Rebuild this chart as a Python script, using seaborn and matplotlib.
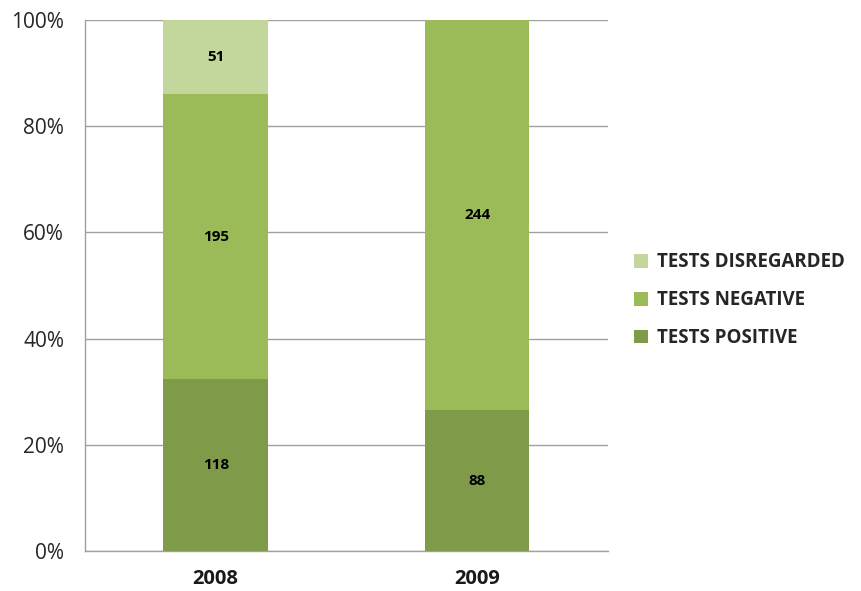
import pandas as pd
import matplotlib.pyplot as plt
import seaborn as sns
from matplotlib.patches import Patch

# Data
years = ["2008", "2009"]
tests_positive = [118, 88]
tests_negative = [195, 244]
tests_disregarded = [51, 0]

series_names = ["TESTS POSITIVE", "TESTS NEGATIVE", "TESTS DISREGARDED"]
series_colors = ["#7F9A48", "#9BBB59", "#C3D69B"]

df = pd.DataFrame({
    "year": years,
    "TESTS POSITIVE": tests_positive,
    "TESTS NEGATIVE": tests_negative,
    "TESTS DISREGARDED": tests_disregarded,
})
total = df[series_names].sum(axis=1)
pct = df[series_names].div(total, axis=0) * 100
cum = pct.cumsum(axis=1)

sns.set_style("white")
plt.rcParams['font.family'] = ['Open Sans', 'DejaVu Sans']

fig = plt.figure(figsize=(8.62, 5.91), dpi=100)
ax = fig.add_axes([0.0986, 0.0677, 0.6066, 0.8985])

# stacked bars: draw tallest cumulative first so lower segments sit on top
for name, color in reversed(list(zip(series_names, series_colors))):
    plot_df = pd.DataFrame({"year": df["year"], "value": cum[name]})
    sns.barplot(data=plot_df, x="year", y="value", color=color, width=0.4,
                saturation=1, linewidth=0, edgecolor="none", ax=ax, zorder=3)

# segment labels
for i in range(len(years)):
    bottom = 0
    for name in series_names:
        h = pct.loc[i, name]
        if df.loc[i, name] > 0:
            ax.text(i, bottom + h / 2, str(df.loc[i, name]), ha="center", va="center",
                    fontsize=11, fontweight="bold", color="black", zorder=4)
        bottom += h

ax.set_xlim(-0.5, 1.5)
ax.set_ylim(0, 100)
ax.set_yticks(range(0, 101, 20))
ax.set_yticklabels([f"{v}%" for v in range(0, 101, 20)], fontsize=15, color="#262626")
ax.set_xticks(range(len(years)))
ax.set_xticklabels(years, fontsize=14.5, fontweight="bold", color="#1a1a1a")
ax.set_xlabel("")
ax.set_ylabel("")

ax.grid(axis="y", color="#A0A0A0", linewidth=1, zorder=0)
ax.set_axisbelow(True)
for side in ["top", "right"]:
    ax.spines[side].set_visible(False)
for side in ["left", "bottom"]:
    ax.spines[side].set_color("#A0A0A0")
    ax.spines[side].set_linewidth(1)

ax.tick_params(axis="y", length=5, color="#A0A0A0", pad=10)
ax.tick_params(axis="x", length=0, pad=13)

handles = [Patch(facecolor=c, edgecolor="none") for c in reversed(series_colors)]
fig.legend(handles, list(reversed(series_names)), loc="center left",
           bbox_to_anchor=(0.716, 0.492), frameon=False,
           prop={"size": 13.5, "weight": "bold"}, handlelength=0.75, handleheight=0.75,
           handletextpad=0.45, labelspacing=0.95)

fig.savefig("out.png", dpi=100)
plt.close()
